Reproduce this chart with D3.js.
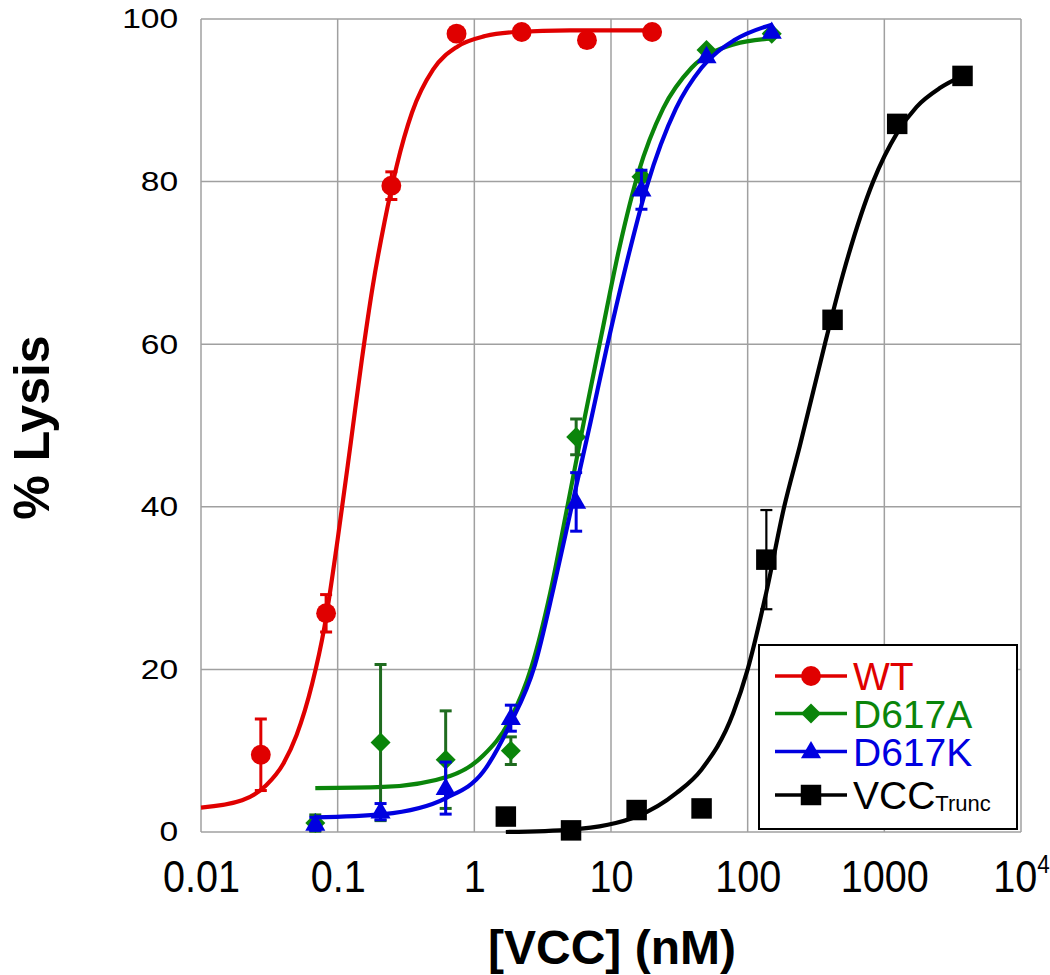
<!DOCTYPE html>
<html>
<head>
<meta charset="utf-8">
<script src="https://cdn.jsdelivr.net/npm/d3@7"></script>
<style>
  body { margin: 0; background: #fff; }
  svg { display: block; font-family: "Liberation Sans", Arial, sans-serif; }
  .grid line { stroke: #a0a0a0; stroke-width: 1.5; }
  .y-label { font-size: 28px; fill: #000; }
  .x-label { font-size: 44px; fill: #000; }
  .axis-title { font-weight: bold; fill: #000; }
  .legend-text { font-size: 39px; }
</style>
</head>
<body>
<div id="chart"></div>
<script>
// Measured points (concentration in nM, % lysis, +/- error)
const wtConc = [0.0274, 0.0823, 0.247, 0.741, 2.22, 6.67, 20];
const wtLysis = [9.5, 26.9, 79.5, 98.2, 98.4, 97.4, 98.4];
const wtErr = [4.4, 2.3, 1.7, 0, 0, 0, 0];

const mutConc = [0.0686, 0.206, 0.617, 1.85, 5.56, 16.7, 50, 150];
const d617aLysis = [1.1, 11.0, 8.9, 10.0, 48.6, 80.6, 96.2, 98.2];
const d617aErr = [1.0, 9.6, 6.0, 1.7, 2.2, 0.5, 0, 0];
const d617kLysis = [1.0, 2.5, 5.4, 14.0, 40.6, 79.0, 95.4, 98.4];
const d617kErr = [0.8, 1.0, 3.2, 1.6, 3.6, 2.4, 0, 0];

const truncConc = [1.7, 5.1, 15.4, 46, 137, 418, 1242, 3733];
const truncLysis = [1.9, 0.2, 2.7, 2.9, 33.5, 63.0, 87.1, 93.0];
const truncErr = [0, 0, 0, 0, 6.1, 0, 0, 0];

// Fitted curves
const wtFitConc = [0.01, 0.02, 0.03, 0.04, 0.05, 0.065, 0.08, 0.1, 0.125, 0.15, 0.18, 0.22, 0.27, 0.35, 0.5, 0.75, 1.2, 2, 5, 20];
const wtFitLysis = [3.0, 3.9, 5.75, 8.4, 11.9, 18.2, 25.2, 36.0, 48.0, 58.0, 67.0, 75.0, 81.9, 88.5, 93.8, 96.6, 97.9, 98.4, 98.6, 98.6];
const d617aFitConc = [0.0686, 0.216, 0.664, 1.16, 1.8, 2.62, 3.6, 4.73, 6.37, 8.53, 11.5, 15.8, 24.1, 38.9, 80, 150];
const d617aFitLysis = [5.4, 5.55, 6.9, 9.4, 13.6, 20.3, 29.5, 39.5, 50.7, 61.2, 71.8, 81.0, 89.0, 94.0, 96.9, 97.6];
const d617kFitConc = [0.0686, 0.216, 0.626, 1.16, 1.82, 2.77, 3.8, 5.15, 7.1, 9.29, 12.8, 18.2, 29.9, 46, 80, 150];
const d617kFitLysis = [1.8, 2.2, 4.2, 7.4, 13.2, 20.5, 30, 40, 50.5, 59.5, 69.5, 79.3, 89.0, 94.0, 97.4, 99.3];
const truncFitConc = [1.7, 5.15, 15.4, 30.2, 46, 78.3, 100, 137, 185, 241, 367, 500, 828, 1242, 1723, 2547, 3733];
const truncFitLysis = [0, 0.3, 1.9, 4.8, 7.7, 14.6, 20, 29.5, 40, 47.5, 60, 68.7, 80, 86.0, 89.2, 91.5, 93.0];

const xTicks = [0.01, 0.1, 1, 10, 100, 1000, 10000];
const yTicks = [0, 20, 40, 60, 80, 100];

const width = 1050, height = 975;
const margin = { top: 19, right: 29, bottom: 143, left: 201 };

const svg = d3.select("#chart").append("svg")
    .attr("width", width)
    .attr("height", height);

const xScale = d3.scaleLog()
    .domain([0.01, 10000])
    .range([margin.left, width - margin.right]);

const yScale = d3.scaleLinear()
    .domain([0, 100])
    .range([height - margin.bottom, margin.top]);

// Grid
const grid = svg.append("g").attr("class", "grid");
grid.selectAll(".v").data(xTicks).join("line")
    .attr("x1", d => xScale(d)).attr("x2", d => xScale(d))
    .attr("y1", yScale(0)).attr("y2", yScale(100));
grid.selectAll(".h").data(yTicks).join("line")
    .attr("x1", xScale(0.01)).attr("x2", xScale(10000))
    .attr("y1", d => yScale(d)).attr("y2", d => yScale(d));

// Y axis labels (slightly wide lettering, as in the source figure)
const yAxis = svg.append("g")
    .attr("transform", `translate(${margin.left}, 0)`)
    .call(d3.axisLeft(yScale).tickValues(yTicks).tickSize(0).tickPadding(19));
yAxis.select(".domain").remove();
yAxis.selectAll("text")
    .attr("class", "y-label")
    .attr("font-family", null).attr("font-size", null)
    .attr("transform", "scale(1.2, 1)");

// X axis labels (tall, narrow lettering)
const xFmt = d => d >= 10000 ? "10" : (d < 1 ? String(d) : d3.format("d")(d));
const xAxis = svg.append("g")
    .attr("transform", `translate(0, ${yScale(0)})`)
    .call(d3.axisBottom(xScale).tickValues(xTicks).tickFormat(xFmt).tickSize(0).tickPadding(29));
xAxis.select(".domain").remove();
xAxis.selectAll("text")
    .attr("class", "x-label")
    .attr("font-family", null).attr("font-size", null)
    .attr("transform", "scale(0.9, 1)");
xAxis.selectAll(".tick").filter(d => d === 10000).select("text")
    .append("tspan")
    .attr("dy", "-19")
    .attr("font-size", "25px")
    .text("4");

// Axis titles
svg.append("text")
    .attr("class", "axis-title")
    .attr("font-size", "50px")
    .attr("transform", `translate(49, ${(yScale(0) + yScale(100)) / 2 + 2}) rotate(-90)`)
    .attr("text-anchor", "middle")
    .text("% Lysis");

svg.append("text")
    .attr("class", "axis-title")
    .attr("font-size", "48px")
    .attr("x", 612)
    .attr("y", 964)
    .attr("text-anchor", "middle")
    .text("[VCC] (nM)");

// Series
const series = [
    { name: "WT", color: "#e00000", errColor: "#e00000", conc: wtConc, lysis: wtLysis, err: wtErr,
      fitConc: wtFitConc, fitLysis: wtFitLysis, shape: "circle" },
    { name: "D617A", color: "#0a850a", errColor: "#1f6b1f", conc: mutConc, lysis: d617aLysis, err: d617aErr,
      fitConc: d617aFitConc, fitLysis: d617aFitLysis, shape: "diamond" },
    { name: "D617K", color: "#0000e0", errColor: "#0000e0", conc: mutConc, lysis: d617kLysis, err: d617kErr,
      fitConc: d617kFitConc, fitLysis: d617kFitLysis, shape: "triangle" },
    { name: "VCC", sub: "Trunc", color: "#000000", errColor: "#000000", conc: truncConc, lysis: truncLysis, err: truncErr,
      fitConc: truncFitConc, fitLysis: truncFitLysis, shape: "square" }
];

function markerPath(shape) {
    if (shape === "circle") return d3.symbol().type(d3.symbolCircle).size(310)();
    if (shape === "diamond") return d3.symbol().type(d3.symbolSquare).size(200)();
    if (shape === "triangle") return d3.symbol().type(d3.symbolTriangle).size(175)();
    return d3.symbol().type(d3.symbolSquare).size(420)();
}
function markerTransform(shape, x, y) {
    if (shape === "diamond") return `translate(${x}, ${y}) rotate(45)`;
    if (shape === "triangle") return `translate(${x}, ${y + 1})`;
    return `translate(${x}, ${y})`;
}

const line = d3.line()
    .x(d => xScale(d[0]))
    .y(d => yScale(d[1]))
    .curve(d3.curveMonotoneX);

series.forEach(s => {
    const g = svg.append("g");
    const pts = s.conc.map((c, i) => ({ c: c, v: s.lysis[i], e: s.err[i] }));

    // fitted curve
    g.append("path")
        .attr("d", line(s.fitConc.map((c, i) => [c, s.fitLysis[i]])))
        .attr("fill", "none")
        .attr("stroke", s.color)
        .attr("stroke-width", 4.2);

    // error bars
    const eb = g.selectAll(".err").data(pts.filter(d => d.e > 0)).join("g")
        .attr("stroke", s.errColor)
        .attr("stroke-width", s.shape === "square" ? 2.2 : 3);
    eb.append("line")
        .attr("x1", d => xScale(d.c)).attr("x2", d => xScale(d.c))
        .attr("y1", d => yScale(d.v - d.e)).attr("y2", d => yScale(d.v + d.e));
    eb.append("line")
        .attr("x1", d => xScale(d.c) - 6).attr("x2", d => xScale(d.c) + 6)
        .attr("y1", d => yScale(d.v + d.e)).attr("y2", d => yScale(d.v + d.e));
    eb.append("line")
        .attr("x1", d => xScale(d.c) - 6).attr("x2", d => xScale(d.c) + 6)
        .attr("y1", d => yScale(d.v - d.e)).attr("y2", d => yScale(d.v - d.e));

    // markers
    g.selectAll(".pt").data(pts).join("path")
        .attr("d", markerPath(s.shape))
        .attr("transform", d => markerTransform(s.shape, xScale(d.c), yScale(d.v)))
        .attr("fill", s.color);
});

// Legend
const legend = svg.append("g").attr("transform", "translate(759, 645)");
legend.append("rect")
    .attr("width", 258)
    .attr("height", 184)
    .attr("fill", "#fff")
    .attr("stroke", "#000")
    .attr("stroke-width", 2);

const rowY = [31, 68.5, 106.5, 150];
series.forEach((s, i) => {
    const item = legend.append("g").attr("transform", `translate(0, ${rowY[i]})`);
    item.append("line")
        .attr("x1", 16).attr("x2", 88)
        .attr("stroke", s.color)
        .attr("stroke-width", 3.5);
    item.append("path")
        .attr("d", markerPath(s.shape))
        .attr("transform", markerTransform(s.shape, 52, 0))
        .attr("fill", s.color);
    const t = item.append("text")
        .attr("class", "legend-text")
        .attr("x", 94)
        .attr("y", 14)
        .attr("fill", s.color)
        .text(s.name);
    if (s.sub) {
        t.append("tspan")
            .attr("font-size", "22px")
            .attr("dy", "2")
            .text(s.sub);
    }
});
</script>
</body>
</html>
